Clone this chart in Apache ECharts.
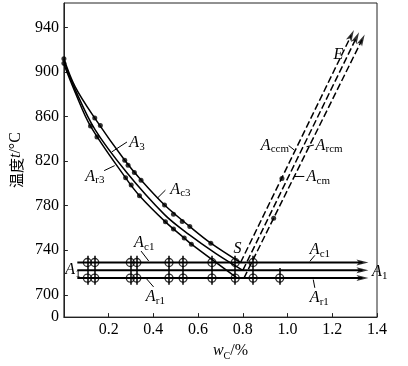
<!DOCTYPE html>
<html><head><meta charset="utf-8">
<script src="https://cdn.jsdelivr.net/npm/echarts@6/dist/echarts.min.js"></script>
<style>html,body{margin:0;padding:0;background:#fff}#c{width:408px;height:366px}</style>
</head><body><div id="c"></div>
<script>
// ---- axis ticks ----
const yTickValues = [680, 700, 740, 780, 820, 860, 900, 940];
const yTickLabels = ['0', '700', '740', '780', '820', '860', '900', '940'];
const xTickValues = [0.2, 0.4, 0.6, 0.8, 1.0, 1.2, 1.4];
const xTickLabels = ['0.2', '0.4', '0.6', '0.8', '1.0', '1.2', '1.4'];

// ---- curves (wC %, temperature °C) ----
const ac3W = [0, 0.05, 0.138, 0.272, 0.345, 0.45, 0.563, 0.657, 0.79];
const ac3T = [912, 887, 858.7, 820.8, 803, 780.6, 761.3, 746.4, 729];
const a3W = [0, 0.05, 0.14, 0.28, 0.45, 0.56, 0.68, 0.80];
const a3T = [910, 884.5, 848, 810, 772, 754, 737, 722];
const ar3W = [0, 0.05, 0.119, 0.276, 0.338, 0.454, 0.538, 0.57, 0.775];
const ar3T = [907, 882, 851.5, 805, 789, 765.5, 751, 745.5, 715];

// ---- measured points on curves ----
const ac3DotW = [0, 0.138, 0.163, 0.272, 0.287, 0.315, 0.345, 0.45, 0.49, 0.529, 0.563, 0.657];
const ac3DotT = [912, 858.7, 852.1, 820.8, 816.3, 809.8, 802.9, 780.6, 772.3, 765.8, 761.3, 746.4];
const ar3DotW = [0, 0.119, 0.148, 0.276, 0.301, 0.338, 0.454, 0.49, 0.538, 0.57];
const ar3DotT = [908, 851.5, 841.7, 805.1, 798.5, 789, 765.5, 759, 751, 745.5];
const cmDotW = [0.975, 0.938];
const cmDotT = [804.5, 768.8];

// ---- critical temperatures (horizontal lines) ----
const ac1Temp = 729, a1Temp = 722, ar1Temp = 715;
const hLineStartW = 0.06, hLineEndW = 1.335;

// ---- samples marked on Ac1 / Ar1 ----
const sampleW = [0.105, 0.138, 0.297, 0.326, 0.47, 0.533, 0.662, 0.766, 0.846, 0.965];
const sampleOnAc1 = [1, 1, 1, 1, 1, 1, 1, 1, 1, 0];
const sampleTopT = [735, 735, 735, 735, 735, 735, 735, 735, 735, 724];
const sampleBotT = [709, 709, 709, 709, 709, 709, 709, 709, 709, 709];

// ---- Acm family (dashed, arrowed) ----
const accmW = [0.79, 1.285], accmT = [729, 933];
const acmW = [0.80, 1.308], acmT = [722, 931];
const arcmW = [0.805, 1.333], arcmT = [715, 929];

const zip = (a, b) => a.map((v, i) => [v, b[i]]);
const serif = '"Liberation Serif", "Times New Roman", serif';

const chart = echarts.init(document.getElementById('c'), null, {renderer: 'canvas'});

const blackLine = (w, type) => ({color: '#000', width: w, type: type || 'solid'});
const line = (name, data, w, type, smooth) => ({type: 'line', name, data, smooth: smooth || false, symbol: 'none',
  lineStyle: blackLine(w, type), silent: true, z: 3, emphasis: {disabled: true}});

const hLines = [
  [[hLineStartW, ac1Temp], [hLineEndW, ac1Temp]],
  [[hLineStartW, a1Temp], [hLineEndW, a1Temp]],
  [[hLineStartW, ar1Temp], [hLineEndW, ar1Temp]]
];
const cmLines = [zip(accmW, accmT), zip(acmW, acmT), zip(arcmW, arcmT)];

const option = {
  animation: false,
  backgroundColor: '#fff',
  grid: {left: 56, right: 31, top: 3, bottom: 47, show: true, borderColor: '#222', borderWidth: 1},
  xAxis: {
    type: 'value', min: 0, max: 1.4,
    name: '{it|w}{sub|C}{r|/%}',
    nameLocation: 'middle', nameGap: 24,
    nameTextStyle: {padding: [0, 0, 0, 20], rich: {
      it: {fontFamily: serif, fontStyle: 'italic', fontSize: 16, color: '#000', verticalAlign: 'top', lineHeight: 18},
      sub: {fontFamily: serif, fontSize: 10, color: '#000', verticalAlign: 'top', lineHeight: 10, padding: [8, 0, 0, 0]},
      r: {fontFamily: serif, fontSize: 16, color: '#000', verticalAlign: 'top', lineHeight: 18}
    }},
    axisLine: {lineStyle: {color: '#222', width: 1}},
    axisTick: {inside: true, length: 4, customValues: xTickValues, lineStyle: {color: '#222'}},
    axisLabel: {customValues: xTickValues, margin: 5, fontFamily: serif, fontSize: 16, color: '#000',
      formatter: v => { const i = xTickValues.findIndex(x => Math.abs(x - v) < 1e-6); return i >= 0 ? xTickLabels[i] : ''; }},
    splitLine: {show: false}
  },
  yAxis: {
    type: 'value', min: 680, max: 962,
    name: '{cn|温度}{it|t}{r|/°C}',
    nameLocation: 'middle', nameGap: 36,
    nameTextStyle: {rich: {
      cn: {fontFamily: '"Noto Sans CJK SC"', fontSize: 15, color: '#000'},
      it: {fontFamily: serif, fontStyle: 'italic', fontSize: 16, color: '#000'},
      r: {fontFamily: serif, fontSize: 16, color: '#000'}
    }},
    axisLine: {show: true, lineStyle: {color: '#222', width: 1}},
    axisTick: {show: true, inside: true, length: 4, customValues: yTickValues, lineStyle: {color: '#222'}},
    axisLabel: {customValues: yTickValues, margin: 5, fontFamily: serif, fontSize: 16, color: '#000',
      formatter: v => { const i = yTickValues.findIndex(x => Math.abs(x - v) < 1e-6); return i >= 0 ? yTickLabels[i] : ''; }},
    splitLine: {show: false}
  },
  series: [
    line('Ac3', zip(ac3W, ac3T), 1.5, 'solid', 0.35),
    line('A3', zip(a3W, a3T), 1.5, 'solid', 0.35),
    line('Ar3', zip(ar3W, ar3T), 1.5, 'solid', 0.35),
    line('Ac1', hLines[0], 2),
    line('A1', hLines[1], 2),
    line('Ar1', hLines[2], 2),
    line('Accm', cmLines[0], 1.5, [7, 3]),
    line('Acm', cmLines[1], 1.5, [7, 3]),
    line('Arcm', cmLines[2], 1.5, [7, 3]),
    {type: 'line', name: 'samples', data: [], silent: true,
      markLine: {silent: true, symbol: ['none', 'none'], label: {show: false},
        lineStyle: {color: '#000', width: 1.5, type: 'solid'},
        emphasis: {disabled: true},
        data: sampleW.map((w, i) => [{coord: [w, sampleTopT[i]]}, {coord: [w, sampleBotT[i]]}])}},
    {type: 'scatter', name: 'curve dots', silent: true, z: 5,
      data: zip(ac3DotW, ac3DotT).concat(zip(ar3DotW, ar3DotT), zip(cmDotW, cmDotT)),
      symbol: 'circle', symbolSize: 5, itemStyle: {color: '#000'}},
    {type: 'scatter', name: 'sample circles', silent: true, z: 6,
      data: sampleW.filter((w, i) => sampleOnAc1[i]).map(w => [w, ac1Temp]).concat(sampleW.map(w => [w, ar1Temp])),
      symbol: 'circle', symbolSize: 8, itemStyle: {color: 'rgba(0,0,0,0)', borderColor: '#000', borderWidth: 1.3}}
  ]
};
chart.setOption(option);

const px = (w, t) => chart.convertToPixel({gridIndex: 0}, [w, t]);

// ---- arrowheads at the ends of the arrowed lines, oriented along each line ----
const arrowLines = hLines.concat(cmLines);
const arrowData = arrowLines.map(l => {
  const a = px(l[0][0], l[0][1]), b = px(l[1][0], l[1][1]);
  const ang = Math.atan2(-(b[1] - a[1]), b[0] - a[0]) * 180 / Math.PI;
  return {value: l[1], symbolRotate: ang - 90};
});

// ---- annotations (anchored in data coordinates) ----
const labelDefs = [
  {m: 'A', s: '3', w: 0.292, t: 836.6},
  {m: 'A', s: 'r3', w: 0.096, t: 806.3},
  {m: 'A', s: 'c3', w: 0.475, t: 794.6},
  {m: 'A', s: 'c1', w: 0.314, t: 746.4},
  {m: 'A', s: '1', w: 0.006, t: 722.5},
  {m: 'A', s: 'r1', w: 0.366, t: 698},
  {m: 'A', s: 'c1', w: 1.099, t: 740.2},
  {m: 'A', s: '1', w: 1.378, t: 720.5},
  {m: 'A', s: 'r1', w: 1.099, t: 697.3},
  {m: 'S', s: '', w: 0.758, t: 741.5},
  {m: 'E', s: '', w: 1.205, t: 915.2},
  {m: 'A', s: 'ccm', w: 0.88, t: 834},
  {m: 'A', s: 'rcm', w: 1.125, t: 834},
  {m: 'A', s: 'cm', w: 1.085, t: 806}
];
const leaderDefs = [
  [[0.214, 828.3], [0.282, 837.2]],
  [[0.18, 811.5], [0.227, 816]],
  [[0.417, 786.6], [0.454, 794]],
  [[0.345, 739.3], [0.379, 730.4]],
  [[0.366, 715.2], [0.401, 707.1]],
  [[1.100, 730.1], [1.122, 735.4]],
  [[1.115, 713.7], [1.122, 706.3]],
  [[1.005, 834], [1.03, 830]],
  [[1.085, 833], [1.118, 834.5]],
  [[1.030, 806.25], [1.075, 806.25]]
];
const graphics = [];
labelDefs.forEach(d => {
  const p = px(d.w, d.t);
  const children = [{type: 'text', x: 0, y: 0, style: {text: d.m, font: 'italic 16px ' + serif, fill: '#000', verticalAlign: 'middle', align: 'left'}}];
  if (d.s) children.push({type: 'text', x: 10, y: 4, style: {text: d.s, font: '11px ' + serif, fill: '#000', verticalAlign: 'middle', align: 'left'}});
  graphics.push({type: 'group', x: p[0], y: p[1], silent: true, children});
});
leaderDefs.forEach(l => {
  const a = px(l[0][0], l[0][1]), b = px(l[1][0], l[1][1]);
  graphics.push({type: 'line', silent: true, shape: {x1: a[0], y1: a[1], x2: b[0], y2: b[1]}, style: {stroke: '#000', lineWidth: 1}});
});

chart.setOption({
  graphic: graphics,
  series: option.series.concat([{
    type: 'scatter', name: 'arrowheads', silent: true, z: 7, data: arrowData,
    symbol: 'path://M0,0 L5,14 L0,11 L-5,14 Z', symbolSize: [6, 12], symbolKeepAspect: false,
    itemStyle: {color: '#000'}
  }])
});
</script></body></html>
